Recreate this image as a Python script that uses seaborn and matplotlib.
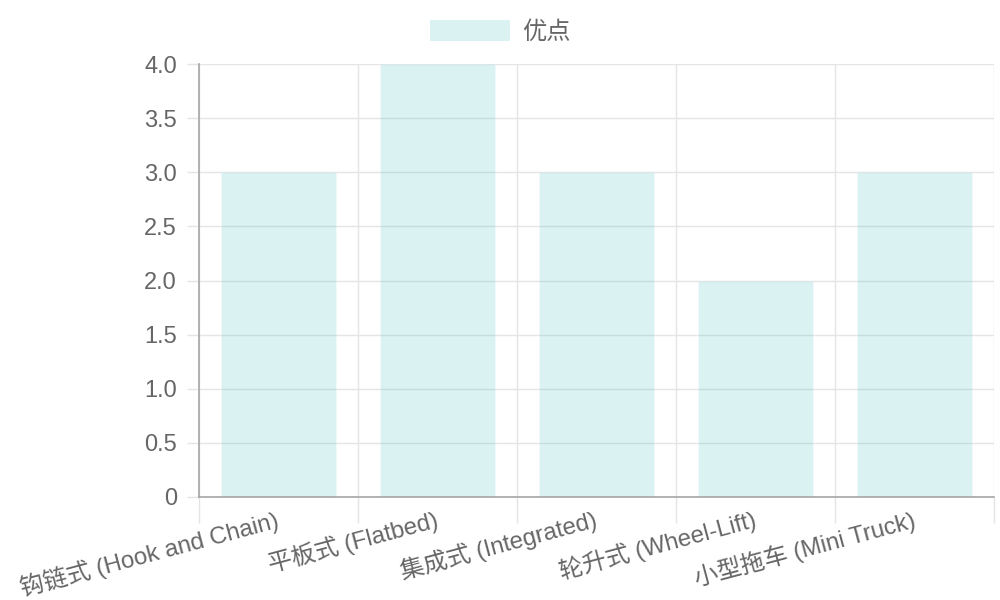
"""
Bar chart: tow truck types vs. advantages score.
"""
import pandas as pd
import matplotlib
matplotlib.use("Agg")
import matplotlib.pyplot as plt
import seaborn as sns
from matplotlib.patches import Patch

categories = [
    "钩链式 (Hook and Chain)",
    "平板式 (Flatbed)",
    "集成式 (Integrated)",
    "轮升式 (Wheel-Lift)",
    "小型拖车 (Mini Truck)",
]
advantages = [3, 4, 3, 2, 3]
series_name = "优点"
y_ticks = [0, 0.5, 1.0, 1.5, 2.0, 2.5, 3.0, 3.5, 4.0]
y_tick_labels = ["0", "0.5", "1.0", "1.5", "2.0", "2.5", "3.0", "3.5", "4.0"]

sns.set_style("white")
plt.rcParams["font.family"] = ["Liberation Sans", "Noto Sans CJK SC", "DejaVu Sans"]

bar_rgb = (75 / 255, 192 / 255, 192 / 255)
text_color = "#666666"
grid_color = "#e5e5e5"
axis_color = "#a6a6a6"

df = pd.DataFrame({"type": categories, "score": advantages})

fig = plt.figure(figsize=(10, 6), dpi=100)
ax = fig.add_axes([0.199, 0.1717, 0.795, 0.7216])

sns.barplot(data=df, x="type", y="score", color=bar_rgb, saturation=1,
            width=0.72, alpha=0.2, ax=ax, zorder=2)

ax.set_xlim(-0.5, len(categories) - 0.5)
ax.set_ylim(0, 4.0)
ax.set_xlabel("")
ax.set_ylabel("")

# y axis
ax.set_yticks(y_ticks)
ax.set_yticklabels(y_tick_labels, fontsize=17, color=text_color)
ax.tick_params(axis="y", length=9, width=1, color=grid_color, pad=7, left=True)
ax.yaxis.grid(True, color=grid_color, linewidth=1)

# x axis: gridlines at category boundaries
ax.set_xticks(range(len(categories)))
ax.set_xticklabels(categories, fontsize=17.3, color=text_color,
                   rotation=15, ha="right", va="center", rotation_mode="anchor")
ax.tick_params(axis="x", which="major", length=0, pad=16)
ax.set_xticks([i - 0.5 for i in range(len(categories) + 1)], minor=True)
ax.tick_params(axis="x", which="minor", length=19, width=1, color=grid_color, bottom=True)
ax.xaxis.grid(True, which="minor", color=grid_color, linewidth=1)
ax.xaxis.grid(False, which="major")
ax.set_axisbelow(True)

for side in ["top", "right"]:
    ax.spines[side].set_visible(False)
for side in ["left", "bottom"]:
    ax.spines[side].set_color(axis_color)
    ax.spines[side].set_linewidth(1.2)
    ax.spines[side].set_zorder(3)

# legend at the top
handle = Patch(facecolor=bar_rgb, alpha=0.2, edgecolor="none", label=series_name)
fig.legend(handles=[handle], loc="center", bbox_to_anchor=(0.5, 0.947),
           frameon=False, fontsize=17.5, handlelength=3.3, handleheight=1.0,
           handletextpad=0.5, labelcolor=text_color)

plt.savefig("out.png", dpi=100)
